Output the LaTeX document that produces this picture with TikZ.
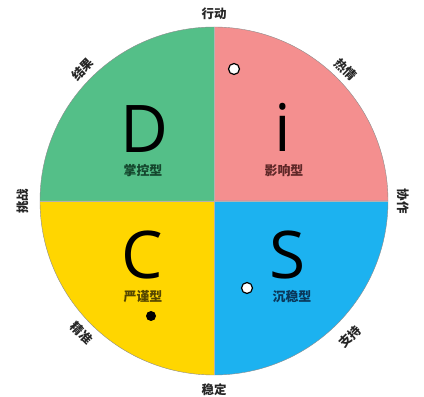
\documentclass[tikz,border=0pt]{standalone}
\usepackage{fontspec}
\newfontfamily\cjk{Noto Sans CJK SC}
\newfontfamily\latinfont{Open Sans}
\usetikzlibrary{calc}
\definecolor{qD}{RGB}{84,191,136}
\definecolor{qI}{RGB}{244,143,143}
\definecolor{qC}{RGB}{255,214,0}
\definecolor{qS}{RGB}{28,178,240}
\definecolor{tD}{RGB}{20,70,45}
\definecolor{tI}{RGB}{95,40,40}
\definecolor{tC}{RGB}{85,70,0}
\definecolor{tS}{RGB}{10,55,90}
\tikzset{
  outer/.style={font=\cjk\fontsize{12.5}{12.5}\selectfont\bfseries, text=black!85, inner sep=0pt},
  bigletter/.style={font=\latinfont\fontsize{66}{66}\selectfont, anchor=base, inner sep=0pt, text depth=0pt},
  typelabel/.style={font=\cjk\fontsize{13}{13}\selectfont\bfseries, inner sep=0pt},
  hollowdot/.style={circle, draw=black, line width=1.2pt, fill=white, minimum size=11bp, inner sep=0pt},
  solidot/.style={circle, fill=black, minimum size=10bp, inner sep=0pt},
}
\begin{document}
\begin{tikzpicture}[x=1bp,y=1bp]
\useasboundingbox (0,0) rectangle (424,397);
\fill[white] (0,0) rectangle (424,397);
\coordinate (c) at (214,196);
\def\R{174}
\fill[qD] (c) -- ++(180:\R) arc[start angle=180,end angle=90,radius=\R] -- cycle;
\fill[qI] (c) -- ++(90:\R) arc[start angle=90,end angle=0,radius=\R] -- cycle;
\fill[qS] (c) -- ++(0:\R) arc[start angle=0,end angle=-90,radius=\R] -- cycle;
\fill[qC] (c) -- ++(270:\R) arc[start angle=270,end angle=180,radius=\R] -- cycle;
\draw[black!45, line width=0.4pt] (c) circle[radius=\R];
\draw[black!30, line width=0.4pt] ($(c)+(180:\R)$) -- ($(c)+(0:\R)$);
\draw[black!30, line width=0.4pt] ($(c)+(90:\R)$) -- ($(c)+(270:\R)$);
% outer labels
\node[outer] (l90)  at ($(c)+(90:187)$)  {行动};
\node[outer, rotate=-45] (l45)  at ($(c)+(45:186)$)  {热情};
\node[outer, rotate=45]  (l135) at ($(c)+(135:186)$) {结果};
\node[outer, rotate=90]  (l180) at ($(c)+(180:191)$) {挑战};
\node[outer, rotate=-90] (l0)   at ($(c)+(0:189)$)   {协作};
\node[outer, rotate=-45] (l225) at ($(c)+(225:187)$) {精准};
\node[outer, rotate=45]  (l315) at ($(c)+(315:192)$) {支持};
\node[outer] (l270) at ($(c)+(270:189)$) {稳定};
% letters
\node[bigletter] (D) at (144,245) {D};
\node[bigletter] (I) at (283,246) {i};
\node[bigletter] (C) at (142,119) {C};
\node[bigletter] (S) at (288,119) {S};
% type labels
\node[typelabel, text=tD] (tD) at (143,226) {掌控型};
\node[typelabel, text=tI] (tI) at (284,226) {影响型};
\node[typelabel, text=tC] (tC) at (143,100) {严谨型};
\node[typelabel, text=tS] (tS) at (292,100) {沉稳型};
% dots
\node[hollowdot] (d1) at (234,328) {};
\node[hollowdot] (d2) at (247,109) {};
\node[solidot] (d3) at (151,81) {};
\end{tikzpicture}
\end{document}
